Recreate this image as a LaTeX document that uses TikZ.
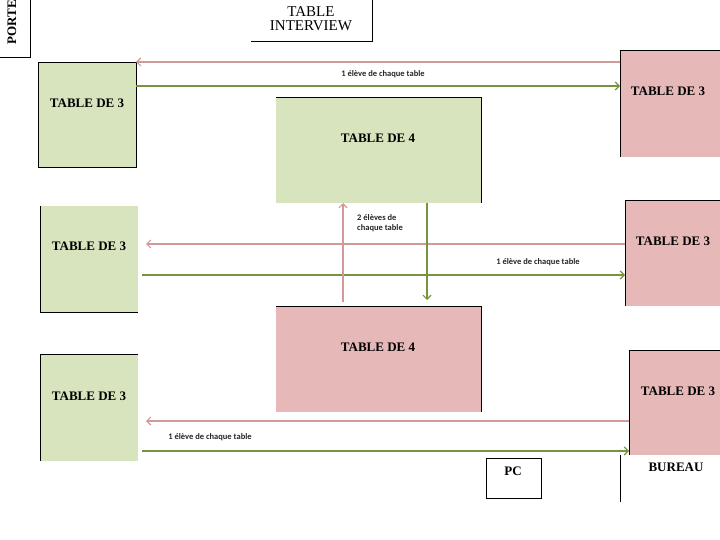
\documentclass[tikz,border=0pt]{standalone}
\usepackage{fontspec}
\setmainfont{Liberation Serif}
\newfontfamily\lbl{Carlito}
\usetikzlibrary{arrows.meta}
\definecolor{tgreen}{HTML}{D7E4BD}
\definecolor{tpink}{HTML}{E6B9B8}
\definecolor{agreen}{HTML}{77933C}
\definecolor{apink}{HTML}{D19A98}
\tikzset{
  tbl/.style={inner sep=0pt, outer sep=0pt, anchor=north west},
  ttxt/.style={font=\fontsize{13}{14}\selectfont\bfseries, inner sep=0pt},
  lbltxt/.style={font=\lbl\fontsize{8.5}{10}\selectfont\bfseries, inner sep=0pt, text=black!85},
  edge/.style={line width=0.9pt, black},
  garrow/.style={line width=1.2pt, agreen, -{Straight Barb[length=4pt,width=8pt]}},
  parrow/.style={line width=1.2pt, apink, -{Straight Barb[length=4pt,width=8pt]}},
}
\begin{document}
\begin{tikzpicture}[x=1pt,y=-1pt]
\useasboundingbox (0,0) rectangle (720,540);
% boxes
\node[tbl, fill=tgreen, minimum width=98, minimum height=105] (g1) at (38,62) {};
\node[tbl, fill=tgreen, minimum width=205, minimum height=106] (g4) at (276,97) {};
\node[tbl, fill=tpink, minimum width=100, minimum height=107] (p1) at (620,50) {};
\node[tbl, fill=tgreen, minimum width=98, minimum height=106] (g2) at (40,206) {};
\node[tbl, fill=tpink, minimum width=95, minimum height=106] (p2) at (625,200) {};
\node[tbl, fill=tpink, minimum width=205, minimum height=106] (p4) at (276,306) {};
\node[tbl, fill=tgreen, minimum width=98, minimum height=107] (g3) at (40,354) {};
\node[tbl, fill=tpink, minimum width=91, minimum height=105] (p3) at (629,350) {};
\node[tbl, draw, line width=0.9pt, minimum width=55, minimum height=40] (pc) at (486,458) {};
% partial borders
\draw[edge] (g1.north west) rectangle (g1.south east);
\draw[edge] (g4.north west) -- (g4.north east) -- (g4.south east);
\draw[edge] (p1.north east) -- (p1.north west) -- (p1.south west);
\draw[edge] (g2.north west) -- (g2.south west) -- (g2.south east);
\draw[edge] (p2.north east) -- (p2.south west |- p2.north) -- (p2.south west);
\draw[edge] (p4.north west) -- (p4.north east) -- (p4.south east);
\draw[edge] (g3.north east) -- (g3.north west) -- (g3.south west);
\draw[edge] (p3.north east) -- (p3.north west) -- (p3.south west);
% porte & interview
\coordinate (porteA) at (30,0);
\coordinate (porteB) at (30,57);
\coordinate (porteC) at (0,57);
\draw[edge] (porteA) -- (porteB) -- (porteC);
\node[rotate=90, font=\fontsize{13}{14}\selectfont\bfseries, inner sep=0pt] (porte) at (12,22) {PORTE};
\coordinate (intA) at (372,0);
\coordinate (intB) at (372,41);
\coordinate (intC) at (251,41);
\draw[edge] (intA) -- (intB) -- (intC);
\node[font=\fontsize{15}{14}\selectfont, align=center, inner sep=0pt] (interview) at (311,19) {TABLE\\INTERVIEW};
% bureau
\coordinate (burA) at (620,455);
\coordinate (burB) at (620,502);
\draw[edge] (burA) -- (burB);
\node[font=\fontsize{13}{14}\selectfont\bfseries, inner sep=0pt] (bureau) at (676,467) {BUREAU};
% texts
\node[ttxt] (t1) at (87,103) {TABLE DE 3};
\node[ttxt] (t2) at (89,246) {TABLE DE 3};
\node[ttxt] (t3) at (89,396) {TABLE DE 3};
\node[ttxt] (t4) at (668,91) {TABLE DE 3};
\node[ttxt] (t5) at (673,241) {TABLE DE 3};
\node[ttxt] (t6) at (678,391) {TABLE DE 3};
\node[ttxt] (t7) at (378,138) {TABLE DE 4};
\node[ttxt] (t8) at (378,347) {TABLE DE 4};
\node[ttxt] (pct) at (513,471) {PC};
% arrows row 1
\draw[parrow] (p1.west |- 0,62) -- (g1.east |- 0,62);
\draw[garrow] (g1.east |- 0,86) -- (p1.west |- 0,86);
\node[lbltxt] (l1) at (383,74) {1 élève de chaque  table};
% arrows row 2
\draw[parrow] (p2.west |- 0,244) -- ([xshift=8]g2.east |- 0,244);
\draw[garrow] ([xshift=4]g2.east |- 0,275) -- (p2.west |- 0,275);
\node[lbltxt] (l2) at (538,262) {1 élève de chaque  table};
% vertical arrows
\draw[parrow] (343,302) -- (g4.south -| 343,0);
\draw[garrow] (g4.south -| 427,0) -- (427,300);
\node[lbltxt, align=left, anchor=north west] (l3) at (357,214) {2 élèves de\\chaque  table};
% arrows row 3
\draw[parrow] (p3.west |- 0,421) -- ([xshift=8]g3.east |- 0,421);
\draw[garrow] ([xshift=4]g3.east |- 0,451) -- (p3.west |- 0,451);
\node[lbltxt] (l4) at (210,437) {1 élève de chaque  table};
\end{tikzpicture}
\end{document}
